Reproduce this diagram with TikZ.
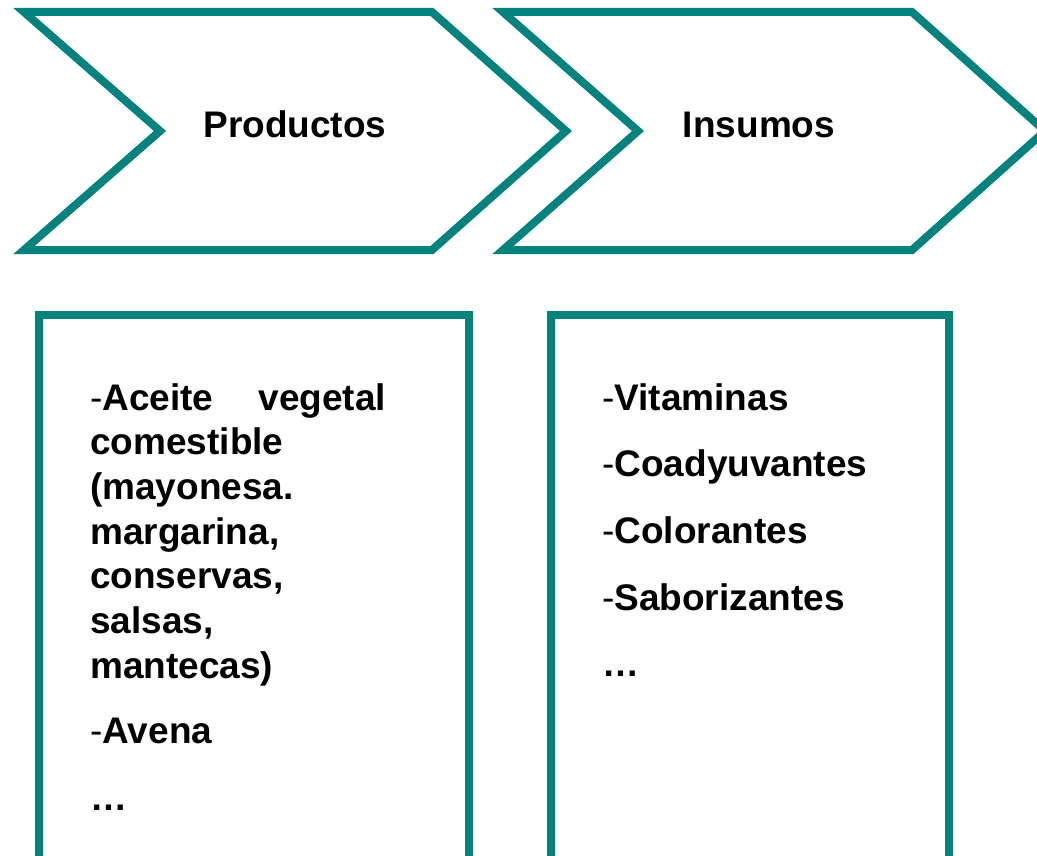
\documentclass[tikz,border=0pt]{standalone}
\usepackage{fontspec}
\setmainfont{Liberation Sans}
\definecolor{chevteal}{RGB}{4,130,126}
\tikzset{
  chevron/.style={draw=chevteal, line width=8pt, line join=miter},
  listbox/.style={draw=chevteal, line width=8pt},
  headlabel/.style={font=\bfseries\fontsize{37}{44}\selectfont, inner sep=0pt, anchor=base},
  itemlist/.style={font=\bfseries\fontsize{37}{44.7}\selectfont, inner sep=0pt, align=left, anchor=north west},
}

\begin{document}
\begin{tikzpicture}[x=1pt, y=-1pt]
  \useasboundingbox (0,0) rectangle (1037,856);

  % chevrons
  \draw[chevron] (24,12) -- (432,12) -- (566,131) -- (432,250) -- (24,250) -- (160,131) -- cycle;
  \draw[chevron] (503,12) -- (912,12) -- (1045,131) -- (912,250) -- (503,250) -- (638,131) -- cycle;
  \node[headlabel] (prod) at (295,138) {Productos};
  \node[headlabel] (insu) at (759,138) {Insumos};

  % list boxes, open at the bottom edge
  \draw[listbox] (39,900) -- (39,315) -- (469,315) -- (469,900);
  \draw[listbox] (551,900) -- (551,315) -- (949,315) -- (949,900);

  \node[itemlist, text width=296pt] (prodlist) at (90,383) {%
    \textmd{-}Aceite\hfill vegetal\\
    comestible\\
    (mayonesa.\\
    margarina,\\
    conservas,\\
    salsas,\\
    mantecas)\\[21pt]
    \textmd{-}Avena\\[22pt]
    …};
  \node[itemlist] (insulist) at (602,383) {%
    \textmd{-}Vitaminas\\[22pt]
    \textmd{-}Coadyuvantes\\[22pt]
    \textmd{-}Colorantes\\[22pt]
    \textmd{-}Saborizantes\\[22pt]
    …};
\end{tikzpicture}
\end{document}
